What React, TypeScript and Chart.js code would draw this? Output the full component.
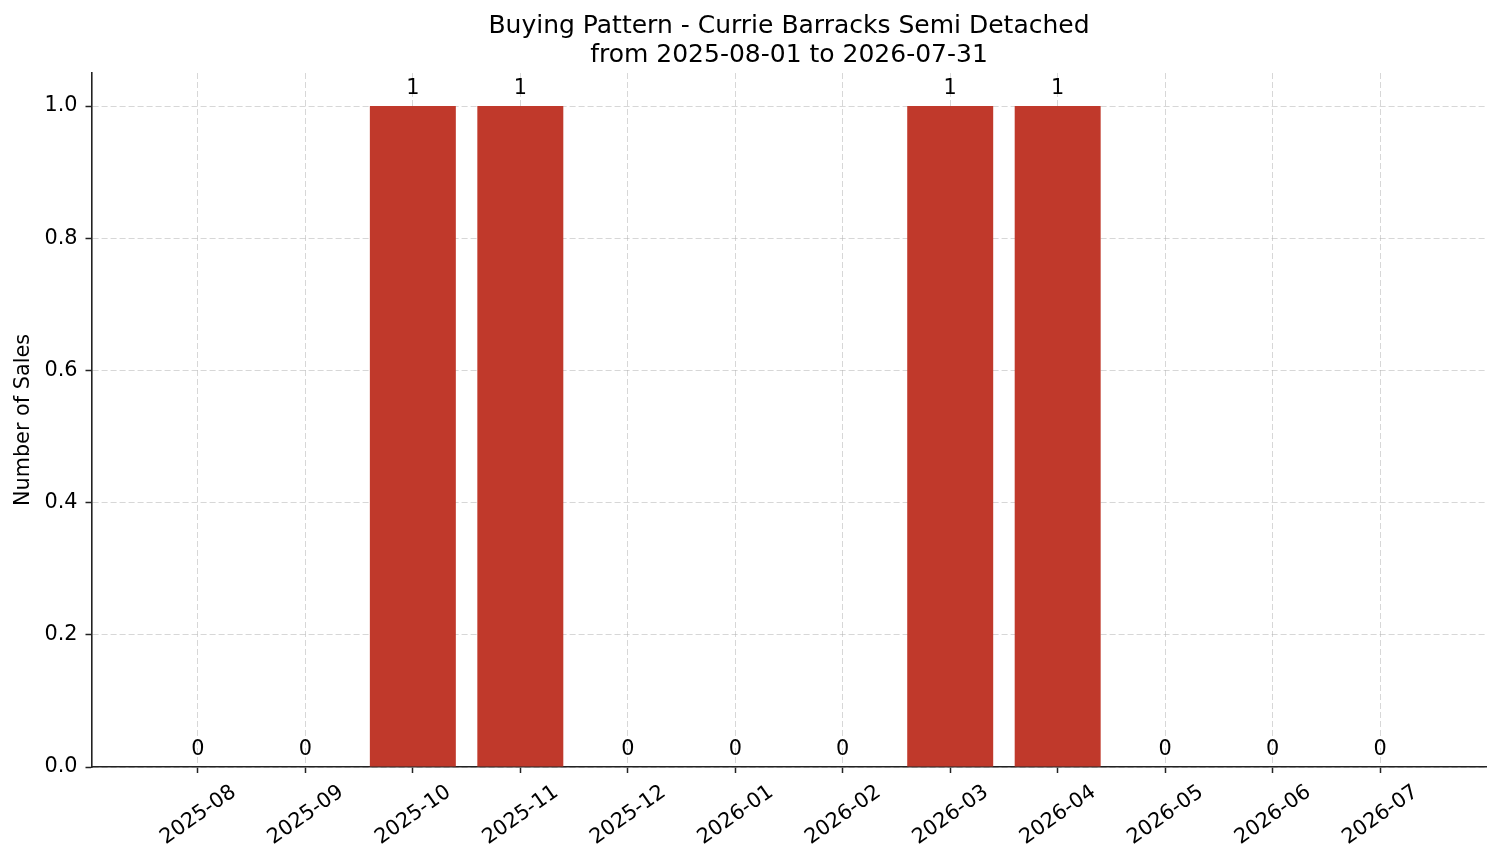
import React, { useEffect, useRef } from "react";
import Chart from "chart.js/auto";

const months = [
  "2025-08", "2025-09", "2025-10", "2025-11", "2025-12", "2026-01",
  "2026-02", "2026-03", "2026-04", "2026-05", "2026-06", "2026-07",
];
const sales = [0, 0, 1, 1, 0, 0, 0, 1, 1, 0, 0, 0];
const yTicks = [0, 0.2, 0.4, 0.6, 0.8, 1.0];
const titleLines = [
  "Buying Pattern - Currie Barracks Semi Detached",
  "from 2025-08-01 to 2026-07-31",
];

const BAR_COLOR = "#c0392b";
const GRID_COLOR = "rgba(176, 176, 176, 0.5)";
const FONT = "DejaVu Sans";

const valueLabels = {
  id: "valueLabels",
  afterDraw(chart: Chart) {
    const { ctx } = chart;
    const meta = chart.getDatasetMeta(0);
    ctx.save();
    ctx.font = `20.8px "${FONT}"`;
    ctx.fillStyle = "#000";
    ctx.textAlign = "center";
    ctx.textBaseline = "alphabetic";
    meta.data.forEach((bar: any, i: number) => {
      ctx.fillText(String(sales[i]), bar.x, bar.y - 12);
    });
    ctx.restore();
  },
};

export default function App() {
  const canvasRef = useRef<HTMLCanvasElement | null>(null);

  useEffect(() => {
    document.body.style.margin = "0";
    if (!canvasRef.current) return;
    Chart.defaults.font.family = FONT;
    Chart.defaults.color = "#000";

    const chart = new Chart(canvasRef.current, {
      type: "bar",
      data: {
        datasets: [
          {
            label: "Number of Sales",
            data: sales.map((v, i) => ({ x: i, y: v })),
            backgroundColor: BAR_COLOR,
            categoryPercentage: 1,
            barPercentage: 0.8,
          },
        ],
      },
      options: {
        responsive: true,
        maintainAspectRatio: false,
        animation: false,
        layout: { padding: { left: 0, right: 14.5, top: 0, bottom: 0 } },
        plugins: {
          legend: { display: false },
          tooltip: { enabled: false },
          title: {
            display: true,
            text: titleLines,
            fullSize: false,
            color: "#000",
            font: { size: 25, weight: "normal", lineHeight: 1.16 },
            padding: { top: 12, bottom: 3 },
          },
        },
        scales: {
          x: {
            type: "linear",
            min: -0.99,
            max: 11.99,
            offset: false,
            z: 1,
            afterBuildTicks: (axis: any) => {
              axis.ticks = months.map((_, i) => ({ value: i }));
            },
            afterFit: (axis: any) => {
              axis.height = 96;
            },
            ticks: {
              autoSkip: false,
              minRotation: 35,
              maxRotation: 35,
              labelOffset: 36,
              padding: 7,
              font: { size: 20.8 },
              color: "#000",
              callback: (v: any) => months[v] ?? "",
            },
            grid: {
              offset: false,
              color: GRID_COLOR,
              lineWidth: 1,
              tickLength: 6,
              tickColor: "#222",
              tickWidth: 1.5,
              tickBorderDash: [],
            },
            border: { color: "#222", width: 1.6, dash: [6, 3] },
          },
          y: {
            min: 0,
            max: 1.05,
            z: 1,
            afterBuildTicks: (axis: any) => {
              axis.ticks = yTicks.map((v) => ({ value: v }));
            },
            afterFit: (axis: any) => {
              axis.width = 91.5;
            },
            ticks: {
              padding: 8,
              font: { size: 20.8 },
              color: "#000",
              callback: (v: any) => Number(v).toFixed(1),
            },
            grid: {
              color: GRID_COLOR,
              lineWidth: 1,
              tickLength: 6,
              tickColor: "#222",
              tickWidth: 1.5,
              tickBorderDash: [],
            },
            border: { color: "#222", width: 1.6, dash: [6, 3] },
            title: {
              display: true,
              text: "Number of Sales",
              color: "#000",
              font: { size: 20.8 },
              padding: { top: 11, bottom: 0 },
            },
          },
        },
      },
      plugins: [valueLabels],
    });
    return () => chart.destroy();
  }, []);

  return (
    <div style={{ width: 1501, height: 863, position: "relative" }}>
      <canvas ref={canvasRef} />
    </div>
  );
}
